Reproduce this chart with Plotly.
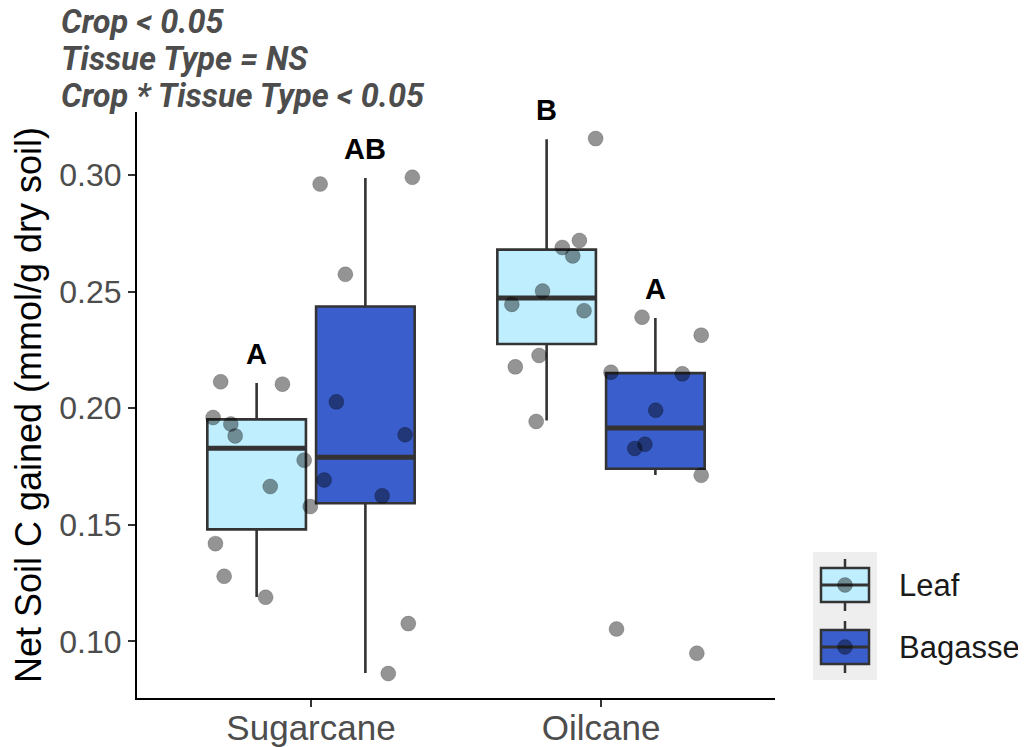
import plotly.graph_objects as go

# ---------------- data ----------------
crops = ["Sugarcane", "Oilcane"]
tissues = ["Leaf", "Bagasse"]
tick_vals = [0.10, 0.15, 0.20, 0.25, 0.30]
tick_text = ["0.10", "0.15", "0.20", "0.25", "0.30"]

# box statistics, one entry per crop (Sugarcane, Oilcane)
leaf_lower = [0.1190, 0.1947]
leaf_q1 = [0.1480, 0.2275]
leaf_median = [0.1828, 0.2472]
leaf_q3 = [0.1952, 0.2680]
leaf_upper = [0.2108, 0.3153]

bagasse_lower = [0.0864, 0.1713]
bagasse_q1 = [0.1592, 0.1740]
bagasse_median = [0.1789, 0.1915]
bagasse_q3 = [0.2436, 0.2150]
bagasse_upper = [0.2987, 0.2387]

# individual observations (with the horizontal jitter seen in the picture)
sugarcane_leaf = [0.2113, 0.2103, 0.1960, 0.1932, 0.1881, 0.1777, 0.1664, 0.1578, 0.1419, 0.1279, 0.1189]
sugarcane_leaf_jitter = [-0.124, 0.089, -0.150, -0.089, -0.074, 0.164, 0.047, 0.185, -0.142, -0.112, 0.031]
sugarcane_bagasse = [0.2961, 0.2990, 0.2574, 0.2027, 0.1886, 0.1692, 0.1624, 0.1076, 0.0862]
sugarcane_bagasse_jitter = [-0.156, 0.162, -0.069, -0.100, 0.137, -0.142, 0.058, 0.148, 0.079]
oilcane_leaf = [0.3156, 0.2719, 0.2689, 0.2653, 0.2502, 0.2445, 0.2418, 0.2226, 0.2177, 0.1943]
oilcane_leaf_jitter = [0.169, 0.113, 0.054, 0.090, -0.014, -0.120, 0.129, -0.026, -0.108, -0.036]
oilcane_bagasse = [0.2390, 0.2313, 0.2154, 0.2147, 0.1991, 0.1845, 0.1827, 0.1712, 0.1053, 0.0949]
oilcane_bagasse_jitter = [-0.046, 0.158, -0.153, 0.093, 0.001, -0.036, -0.071, 0.158, -0.134, 0.143]

# significance letters: Sugarcane-Leaf, Sugarcane-Bagasse, Oilcane-Leaf, Oilcane-Bagasse
letters = ["A", "AB", "B", "A"]

stats_lines = ["Crop < 0.05", "Tissue Type = NS", "Crop * Tissue Type < 0.05"]

# ---------------- style ----------------
COLORS = {"Leaf": "#BFEFFF", "Bagasse": "#3A5FCD"}
DODGE = {"Leaf": -0.1875, "Bagasse": 0.1875}
BOX_W = 0.34
EDGE = "#333333"
PT_FILL = "rgba(0,0,0,0.42)"
PT_LINE = "rgba(0,0,0,0.18)"
FONT = "Liberation Sans, Arial, Helvetica, sans-serif"

OFF = 8  # page body margin offset
W, H = 1026 - OFF, 747 - OFF
ML, MR, MT, MB = 137 - OFF, 251, 112 - OFF, 49

stats = {
    "Leaf": (leaf_lower, leaf_q1, leaf_median, leaf_q3, leaf_upper),
    "Bagasse": (bagasse_lower, bagasse_q1, bagasse_median, bagasse_q3, bagasse_upper),
}
obs = {
    ("Sugarcane", "Leaf"): (sugarcane_leaf, sugarcane_leaf_jitter),
    ("Sugarcane", "Bagasse"): (sugarcane_bagasse, sugarcane_bagasse_jitter),
    ("Oilcane", "Leaf"): (oilcane_leaf, oilcane_leaf_jitter),
    ("Oilcane", "Bagasse"): (oilcane_bagasse, oilcane_bagasse_jitter),
}

fig = go.Figure()

# boxes
for t in tissues:
    lo, q1, me, q3, up = stats[t]
    xs = [i + 1 + DODGE[t] for i in range(len(crops))]
    fig.add_trace(go.Box(
        x=xs, lowerfence=lo, q1=q1, median=me, q3=q3, upperfence=up,
        name=t, width=BOX_W, whiskerwidth=0,
        fillcolor=COLORS[t], line=dict(color=EDGE, width=2.6),
        boxpoints=False, showlegend=False, hoverinfo="skip",
    ))
    # thicker median bar (ggplot style)
    for i, x in enumerate(xs):
        fig.add_trace(go.Scatter(
            x=[x - BOX_W / 2, x + BOX_W / 2], y=[me[i], me[i]], mode="lines",
            line=dict(color=EDGE, width=5), showlegend=False, hoverinfo="skip",
        ))

# jittered points
for (c, t), (vals, jit) in obs.items():
    base = crops.index(c) + 1 + DODGE[t]
    fig.add_trace(go.Scatter(
        x=[base + j for j in jit], y=vals, mode="markers", name=f"{c} {t}",
        marker=dict(size=15, color=PT_FILL, line=dict(color=PT_LINE, width=1)),
        showlegend=False,
    ))

# significance letters, just above each upper whisker
k = 0
for c in crops:
    for t in tissues:
        i = crops.index(c)
        fig.add_annotation(
            x=i + 1 + DODGE[t], y=stats[t][4][i], yshift=29,
            text=f"<b>{letters[k]}</b>", showarrow=False, xref="x", yref="y",
            xanchor="center", yanchor="middle",
            font=dict(family=FONT, size=29, color="#000000"),
        )
        k += 1

# helpers: screenshot pixel -> paper coordinates
pw, ph = W - ML - MR, H - MT - MB


def px(xp):
    return (xp - OFF - ML) / pw


def py(yp):
    return (H - MB - (yp - OFF)) / ph


# statistics text at the top-left
for n, line in enumerate(stats_lines):
    fig.add_annotation(
        x=px(59), y=py(22 + 37 * n), xref="paper", yref="paper",
        xanchor="left", yanchor="middle", showarrow=False,
        text=f"<b><i>{line}</i></b>",
        font=dict(family="Roboto, sans-serif", size=32.5, color="#4d4d4d"),
    )

# custom legend (ggplot-style keys)
shapes = [dict(type="rect", xref="paper", yref="paper", x0=px(813), x1=px(877),
               y0=py(680), y1=py(552), fillcolor="#EEEEEE", line=dict(width=0), layer="below")]
for t, cy in zip(tissues, [585, 647]):
    shapes += [
        dict(type="line", xref="paper", yref="paper", x0=px(845), x1=px(845),
             y0=py(cy - 26), y1=py(cy + 26), line=dict(color=EDGE, width=2.5)),
        dict(type="rect", xref="paper", yref="paper", x0=px(821), x1=px(869),
             y0=py(cy + 17), y1=py(cy - 17), fillcolor=COLORS[t], line=dict(color=EDGE, width=2.5)),
        dict(type="line", xref="paper", yref="paper", x0=px(821), x1=px(869),
             y0=py(cy), y1=py(cy), line=dict(color=EDGE, width=3)),
        dict(type="circle", xref="paper", yref="paper", x0=px(837.5), x1=px(852.5),
             y0=py(cy + 7.5), y1=py(cy - 7.5), fillcolor=PT_FILL, line=dict(color=PT_LINE, width=1)),
    ]
    fig.add_annotation(
        x=px(897), y=py(cy), xref="paper", yref="paper", xanchor="left", yanchor="middle",
        showarrow=False, text=t, font=dict(family=FONT, size=31, color="#1a1a1a"),
    )

fig.update_layout(
    width=W, height=H,
    margin=dict(l=ML, r=MR, t=MT, b=MB, pad=0, autoexpand=False),
    plot_bgcolor="white", paper_bgcolor="white",
    shapes=shapes,
    showlegend=False,
    xaxis=dict(
        range=[0.4, 2.6], tickmode="array", tickvals=[1, 2], ticktext=crops,
        automargin=False,
        showgrid=False, zeroline=False, showline=True, linecolor="#000000", linewidth=2,
        ticks="outside", ticklen=7, tickwidth=2, tickcolor="#333333",
        ticklabelstandoff=-9,
        tickfont=dict(family=FONT, size=35, color="#4d4d4d"),
    ),
    yaxis=dict(
        range=[0.0757, 0.3270], tickmode="array", tickvals=tick_vals, ticktext=tick_text,
        automargin=False,
        showgrid=False, zeroline=False, showline=True, linecolor="#000000", linewidth=2,
        ticks="outside", ticklen=7, tickwidth=2, tickcolor="#333333",
        tickfont=dict(family=FONT, size=32, color="#4d4d4d"),
        title=dict(text="Net Soil C gained (mmol/g dry soil)", standoff=8,
                   font=dict(family=FONT, size=36, color="#000000")),
    ),
)

fig.write_html("out.html")
